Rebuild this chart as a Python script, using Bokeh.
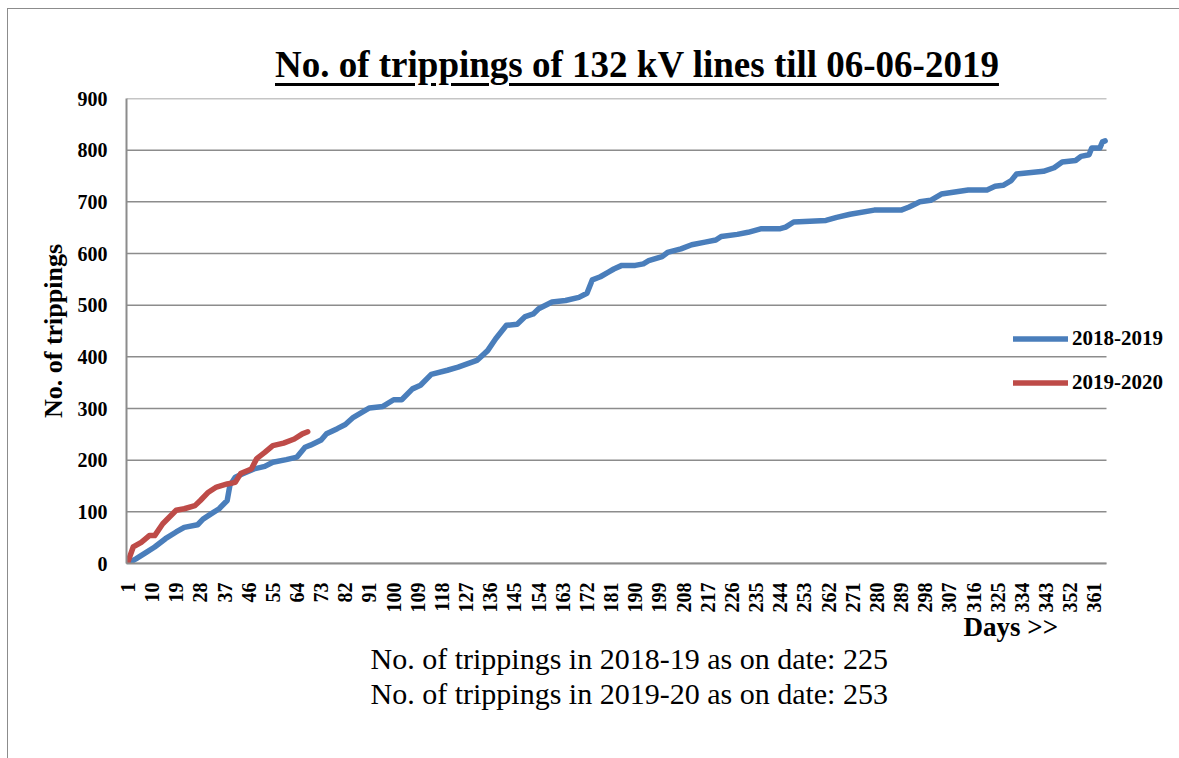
import math
from bokeh.plotting import figure
from bokeh.models import (Range1d, FixedTicker, Title, Legend, LegendItem, Div)
from bokeh.layouts import column
from bokeh.embed import file_html
from bokeh.resources import INLINE

# ---- data ----
days_1819 = [1, 4, 8, 11, 15, 19, 22, 27, 29, 32, 35, 38, 39, 41, 44, 48, 52, 55,
             60, 64, 67, 69, 73, 75, 79, 82, 85, 91, 96, 100, 103, 107, 110, 114,
             120, 124, 131, 135, 138, 142, 146, 149, 152, 154, 159, 164, 169, 172,
             174, 177, 180, 182, 185, 190, 193, 195, 200, 202, 207, 211, 216, 220,
             222, 228, 232, 237, 244, 246, 249, 261, 265, 270, 279, 289, 292, 296,
             300, 304, 309, 314, 321, 324, 327, 330, 332, 342, 346, 349, 354, 356,
             359, 360, 363, 364, 365]
trips_1819 = [0, 9, 22, 32, 48, 61, 70, 75, 86, 96, 106, 122, 151, 167, 174, 183,
              188, 196, 201, 206, 225, 229, 239, 251, 261, 269, 283, 301, 304, 317,
              317, 338, 345, 366, 374, 380, 393, 412, 435, 461, 463, 478, 483, 493,
              506, 509, 515, 523, 549, 555, 564, 570, 577, 577, 580, 586, 594, 602,
              609, 617, 622, 626, 633, 637, 641, 648, 648, 651, 661, 664, 670, 676,
              684, 684, 690, 700, 703, 715, 719, 723, 723, 730, 732, 741, 754, 759,
              766, 777, 780, 788, 791, 804, 804, 816, 818]

days_1920 = [1, 3, 6, 9, 11, 14, 19, 22, 26, 28, 31, 34, 38, 41, 43, 47, 49, 52,
             55, 59, 63, 66, 68]
trips_1920 = [3, 32, 41, 54, 54, 77, 103, 106, 112, 122, 138, 148, 154, 157, 174,
              183, 203, 215, 228, 233, 241, 251, 255]

n_days = 365
x_ticks = list(range(1, 362, 9))
y_ticks = list(range(0, 901, 100))

title_text = "No. of trippings of 132 kV lines till 06-06-2019"
note1 = "No. of trippings in 2018-19 as on date: 225"
note2 = "No. of trippings in 2019-20 as on date: 253"
x_label = "Days >>"
y_label = "No. of trippings"

FONT = "Liberation Serif"
BLUE = "#4A7EBB"
RED = "#BE4B48"
GRID = "#8C8C8C"

W, H = 1179, 758
DIV_H = 60
FIG_H = H - DIV_H

# pixel geometry of the plot area (page coords)
FRAME_L, FRAME_R_DATA, FRAME_T, FRAME_B = 126, 1106, 98, 563
px_per_day = (FRAME_R_DATA - FRAME_L) / n_days
x_end = 0.5 + (W - FRAME_L) / px_per_day  # frame extends to canvas edge

# ---- title as underlined HTML ----
title_div = Div(
    text=('<div style="padding-left:275px; padding-top:46px; line-height:37px; '
          'font-family:\'Liberation Serif\'; font-size:37px; font-weight:bold; '
          'color:black; white-space:nowrap; text-decoration:underline; '
          'text-decoration-thickness:3px; text-underline-offset:6px;">'
          + title_text + '</div>'),
    width=W, height=DIV_H, margin=0)

p = figure(width=W, height=FIG_H, output_backend="svg", toolbar_location=None,
           x_range=Range1d(0.5, x_end), y_range=Range1d(0, 900),
           min_border_left=FRAME_L, min_border_right=0,
           min_border_top=FRAME_T - DIV_H,
           min_border_bottom=FIG_H - (FRAME_B - DIV_H), margin=0)
p.outline_line_color = None
p.background_fill_color = None
p.border_fill_color = None

# grid lines limited to the category span
p.segment(x0=0.5, x1=n_days + 0.5, y0=y_ticks, y1=y_ticks,
          line_color=GRID, line_width=1.5)

# lines
r1 = p.line(days_1819, trips_1819, line_color=BLUE, line_width=5.5,
            line_join="round", line_cap="round")
r2 = p.line(days_1920, trips_1920, line_color=RED, line_width=5.5,
            line_join="round", line_cap="round")

# axes
xa = p.xaxis[0]
xa.ticker = FixedTicker(ticks=x_ticks)
xa.bounds = (0.5, n_days + 0.5)
xa.major_label_orientation = math.pi / 2
xa.major_label_text_font = FONT
xa.major_label_text_font_style = "bold"
xa.major_label_text_font_size = "20px"
xa.major_label_text_color = "black"
xa.major_tick_line_color = None
xa.minor_tick_line_color = None
xa.axis_line_color = GRID
xa.axis_line_width = 2
xa.major_label_standoff = 13

ya = p.yaxis[0]
ya.ticker = FixedTicker(ticks=y_ticks)
ya.major_label_text_font = FONT
ya.major_label_text_font_style = "bold"
ya.major_label_text_font_size = "20px"
ya.major_label_text_color = "black"
ya.major_tick_line_color = None
ya.minor_tick_line_color = None
ya.axis_line_color = GRID
ya.axis_line_width = 2
ya.major_label_standoff = 13
ya.axis_label = y_label
ya.axis_label_text_font = FONT
ya.axis_label_text_font_style = "bold"
ya.axis_label_text_font_size = "26px"
ya.axis_label_text_color = "black"
ya.axis_label_standoff = 7

p.xgrid.grid_line_color = None
p.ygrid.grid_line_color = None

# bottom texts
t_days = Title(text=x_label, align="left", offset=963 - FRAME_L, text_font=FONT,
               text_font_size="27px", text_font_style="bold",
               text_color="black", standoff=-11)
p.add_layout(t_days, "below")
t1 = Title(text=note1, align="left", offset=370 - FRAME_L, text_font=FONT,
           text_font_size="30px", text_font_style="normal",
           text_color="black", standoff=6)
p.add_layout(t1, "below")
t2 = Title(text=note2, align="left", offset=370 - FRAME_L, text_font=FONT,
           text_font_size="30px", text_font_style="normal",
           text_color="black", standoff=-6)
p.add_layout(t2, "below")

# legend
legend = Legend(items=[LegendItem(label="2018-2019", renderers=[r1]),
                       LegendItem(label="2019-2020", renderers=[r2])],
                location=(887, 168), padding=0, margin=0, spacing=19,
                glyph_width=55, glyph_height=21, label_height=21,
                label_standoff=4, label_text_font=FONT,
                label_text_font_style="bold", label_text_font_size="21px",
                label_text_color="black",
                border_line_color=None, background_fill_alpha=0)
p.add_layout(legend)

layout = column(title_div, p, spacing=0, margin=0,
                styles={
                    "background-color": "white",
                    "background-image": ("linear-gradient(#8c8c8c,#8c8c8c), "
                                         "linear-gradient(#8c8c8c,#8c8c8c)"),
                    "background-repeat": "no-repeat, no-repeat",
                    "background-position": "7px 8px, 7px 8px",
                    "background-size": "1px 100%, 100% 1px",
                })

open("out.html", "w").write(file_html(layout, INLINE))
